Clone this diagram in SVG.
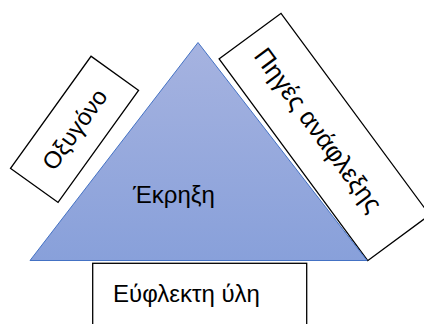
<svg xmlns="http://www.w3.org/2000/svg" width="424" height="324" viewBox="0 0 424 324">
<defs>
<linearGradient id="g" x1="0" y1="0" x2="0" y2="1">
<stop offset="0" stop-color="#a6b3e0"/>
<stop offset="1" stop-color="#88a0da"/>
</linearGradient>
<style>
.box{fill:#fff;stroke:#000;stroke-width:1.3}
.t{font-family:"Liberation Sans",Arial,sans-serif;font-size:24px;fill:#000}
</style>
</defs>
<rect width="424" height="324" fill="#fff"/>
<g id="oxygen">
<g transform="translate(74.5,129.3) rotate(-54.3)">
<rect class="box" x="-69" y="-29.2" width="138" height="58.5"/>
<text class="t" x="0" y="8.5" text-anchor="middle">Οξυγόνο</text>
</g>
</g>
<g id="ignition">
<g transform="translate(281,13.3) rotate(53.6)">
<rect class="box" x="0" y="0" width="250.5" height="76.9"/>
<text class="t" x="116" y="48" text-anchor="middle" style="font-size:25.5px">Πηγές ανάφλεξης</text>
</g>
</g>
<g id="fuel">
<rect class="box" x="92.7" y="263.3" width="214" height="80"/>
<text class="t" x="113" y="301.5">Εύφλεκτη ύλη</text>
</g>
<g id="explosion">
<polygon points="198,42.5 30,260.5 367,260.5" fill="url(#g)" stroke="#4472c4" stroke-width="1"/>
<text class="t" x="174" y="203" text-anchor="middle">Έκρηξη</text>
</g>
<g id="connectors"/>
</svg>
